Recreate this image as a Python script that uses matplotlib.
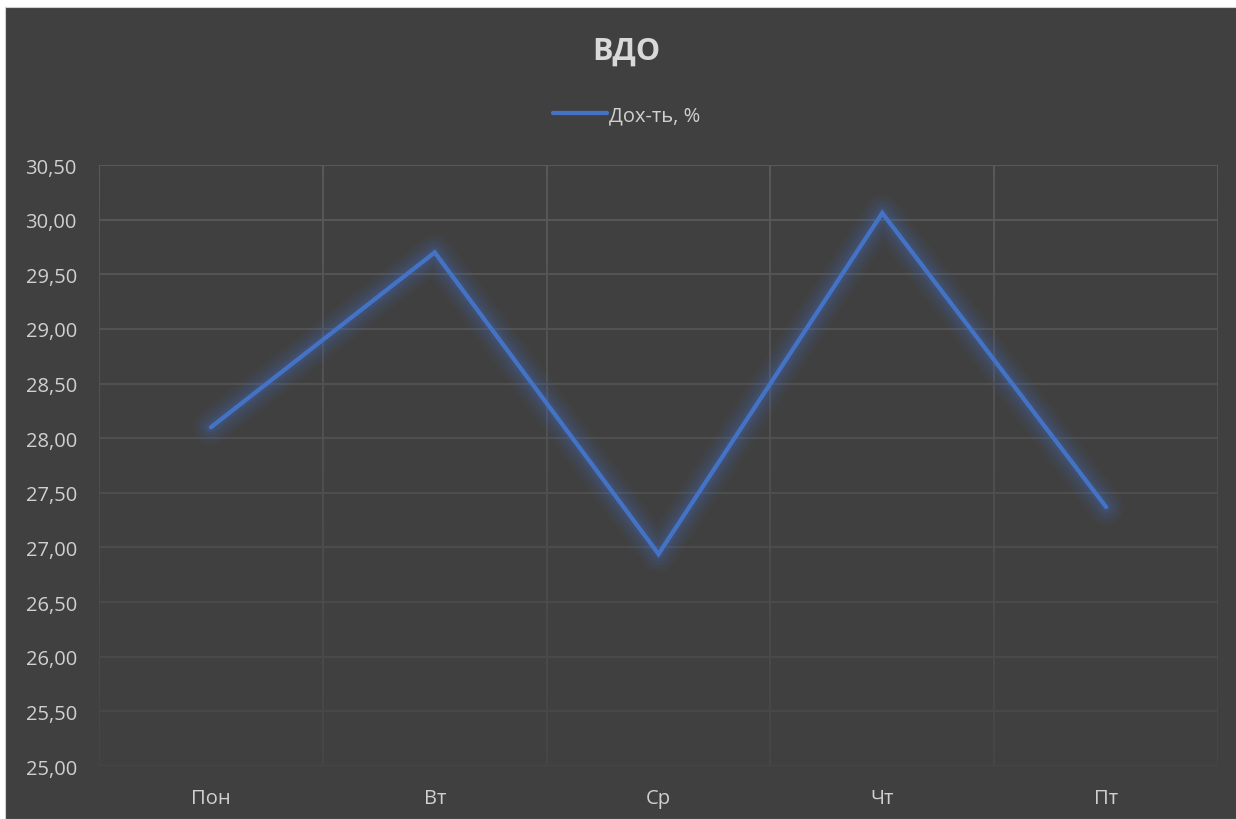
import matplotlib
matplotlib.use("Agg")
import matplotlib.pyplot as plt
import numpy as np
from matplotlib.collections import LineCollection
from matplotlib.patches import Rectangle

plt.rcParams['font.family'] = ['Open Sans', 'DejaVu Sans']

days = ["Пон", "Вт", "Ср", "Чт", "Пт"]
yields = [28.10, 29.70, 26.94, 30.06, 27.37]
y_ticks = [25.0, 25.5, 26.0, 26.5, 27.0, 27.5, 28.0, 28.5, 29.0, 29.5, 30.0, 30.5]

bg = "#404040"
txt = "#d0d0d0"
blue = "#4472C4"

W, H = 1236, 820
fig = plt.figure(figsize=(W / 100, H / 100), dpi=100)
fig.patch.set_facecolor("white")
fig.patches.append(Rectangle((5 / W, 0), 1, 1 - 8 / H, transform=fig.transFigure,
                             facecolor=bg, edgecolor="#d0d0d0", lw=0.8, zorder=-5))

left, right, top, bottom = 99, 1218, 166, 767
ax = fig.add_axes([left / W, 1 - bottom / H, (right - left) / W, (bottom - top) / H])
ax.set_zorder(2)
ax.patch.set_alpha(0)
for s in ax.spines.values():
    s.set_visible(False)

x = np.arange(len(days))
ax.set_xlim(-0.5, len(days) - 0.5)
ax.set_ylim(y_ticks[0], y_ticks[-1])

# gridlines fading towards bottom
top_c = np.array([0x5b, 0x5b, 0x5b]) / 255
bot_c = np.array([0x46, 0x46, 0x46]) / 255
y0, y1 = y_ticks[0], y_ticks[-1]


def grad(v):
    t = (v - y0) / (y1 - y0)
    return tuple(bot_c + (top_c - bot_c) * t)


hsegs = [[(-0.5, v), (len(days) - 0.5, v)] for v in y_ticks]
ax.add_collection(LineCollection(hsegs, colors=[grad(v) for v in y_ticks], lw=1.3, zorder=1))
ys = np.linspace(y0, y1, 60)
vsegs, vcols = [], []
for xv in np.arange(-0.5, len(days), 1.0):
    for a, b in zip(ys[:-1], ys[1:]):
        vsegs.append([(xv, a), (xv, b)])
        vcols.append(grad((a + b) / 2))
ax.add_collection(LineCollection(vsegs, colors=vcols, lw=1.3, zorder=1))

# glow
for w, a in [(26, 0.05), (21, 0.06), (16, 0.08), (11, 0.10), (7, 0.12)]:
    ax.plot(x, yields, color=blue, lw=w, alpha=a, solid_capstyle="round",
            solid_joinstyle="round", zorder=2)
ax.plot(x, yields, color=blue, lw=3.1, solid_capstyle="round", solid_joinstyle="miter",
        zorder=3, label="Дох-ть, %")

ax.set_xticks(x)
ax.set_xticklabels(days)
ax.set_yticks(y_ticks)
ax.set_yticklabels([f"{v:.2f}".replace(".", ",") for v in y_ticks])
ax.tick_params(axis="both", length=0, colors=txt, labelsize=14.5)
ax.tick_params(axis="y", pad=16)
ax.tick_params(axis="x", pad=16)

fig.text(0.507, 1 - 52 / H, "ВДО", ha="center", va="center", color="#d9d9d9",
         fontsize=22, fontweight="bold")
leg = fig.legend(loc="center", bbox_to_anchor=(0.507, 1 - 116 / H), frameon=False,
                 handlelength=2.7, handletextpad=0.1, fontsize=14.5, labelcolor=txt)
for h in leg.get_lines():
    h.set_linewidth(3.1)

fig.savefig("out.png", dpi=100, facecolor=fig.get_facecolor())
